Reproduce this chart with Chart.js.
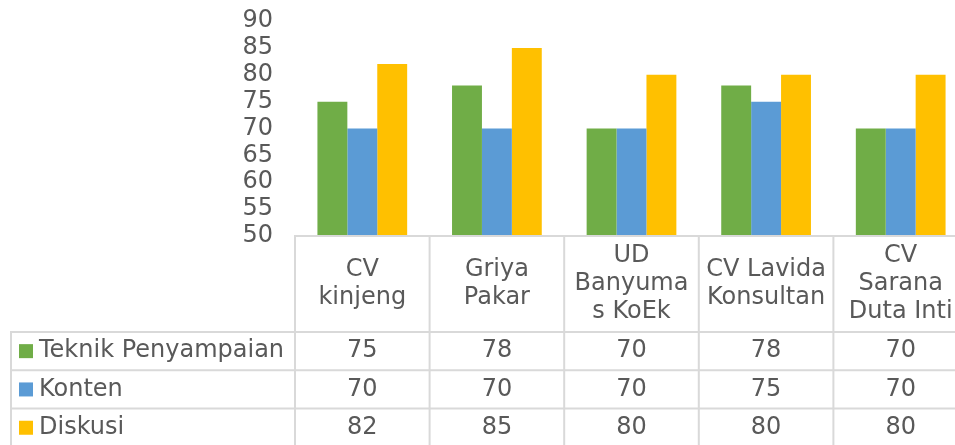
<!DOCTYPE html>
<html>
<head>
<meta charset="utf-8">
<script src="https://cdn.jsdelivr.net/npm/chart.js@4"></script>
<style>
  html, body { margin: 0; padding: 0; background: #fff; overflow: hidden; }
  #wrap { width: 955px; height: 445px; overflow: hidden; }
</style>
</head>
<body>
<div id="wrap"><canvas id="myChart" width="968" height="447"></canvas></div>
<script>
// data
var categories = [['CV', 'kinjeng'], ['Griya', 'Pakar'], ['UD', 'Banyuma', 's KoEk'], ['CV Lavida', 'Konsultan'], ['CV', 'Sarana', 'Duta Inti']];
var seriesNames = ['Teknik Penyampaian', 'Konten', 'Diskusi'];
var teknik = [75, 78, 70, 78, 70];
var konten = [70, 70, 70, 75, 70];
var diskusi = [82, 85, 80, 80, 80];
var colors = ['#70AD47', '#5B9BD5', '#FFC000'];

var FONT = '"DejaVu Sans", Verdana, sans-serif';
var TEXT = '#595959';
var LINE = '#d9d9d9';

// draws the data table under the plot, columns taken from the x scale
var tablePlugin = {
  id: 'dataTable',
  afterDraw: function (chart) {
    var c = chart.ctx;
    var area = chart.chartArea;
    var x = chart.scales.x;
    var n = categories.length;
    var colW = (area.right - area.left) / n;
    var bottom = chart.height;
    var headTop = area.bottom;
    var rowTop = headTop + 96;
    var rowH = 38.3;
    var legLeft = 11;

    c.save();
    c.strokeStyle = LINE;
    c.lineWidth = 2;
    c.beginPath();
    c.moveTo(area.left - 1, headTop); c.lineTo(area.right + 2, headTop);
    for (var r = 0; r <= 3; r++) {
      var yy = rowTop + r * rowH;
      c.moveTo(legLeft - 1, yy); c.lineTo(area.right + 2, yy);
    }
    for (var i = 0; i <= n; i++) {
      var xx = area.left + i * colW;
      c.moveTo(xx, headTop); c.lineTo(xx, bottom);
    }
    c.moveTo(legLeft, rowTop); c.lineTo(legLeft, bottom);
    c.stroke();

    c.fillStyle = TEXT;
    c.font = '24px ' + FONT;
    c.textAlign = 'center';
    c.textBaseline = 'middle';
    var lh = 28;
    var headMid = headTop + 48;
    for (var j = 0; j < n; j++) {
      var cx = x.getPixelForValue(j);
      var lines = categories[j];
      var y0 = headMid - (lines.length - 1) * lh / 2;
      for (var k = 0; k < lines.length; k++) {
        c.fillText(lines[k], cx, y0 + k * lh);
      }
    }

    var rows = [teknik, konten, diskusi];
    for (var r2 = 0; r2 < rows.length; r2++) {
      var cy = rowTop + r2 * rowH + rowH / 2;
      c.textAlign = 'center';
      c.fillStyle = TEXT;
      for (var j2 = 0; j2 < n; j2++) {
        c.fillText(String(rows[r2][j2]), x.getPixelForValue(j2), cy);
      }
      c.fillStyle = colors[r2];
      c.fillRect(19, cy - 7, 14, 14);
      c.fillStyle = TEXT;
      c.textAlign = 'left';
      c.fillText(seriesNames[r2], 39, cy);
    }
    c.restore();
  }
};

var ctx = document.getElementById('myChart').getContext('2d');
var chart = new Chart(ctx, {
  type: 'bar',
  data: {
    labels: categories.map(function (l) { return l.join(' '); }),
    datasets: [
      { label: seriesNames[0], data: teknik, backgroundColor: colors[0] },
      { label: seriesNames[1], data: konten, backgroundColor: colors[1] },
      { label: seriesNames[2], data: diskusi, backgroundColor: colors[2] }
    ]
  },
  options: {
    responsive: false,
    animation: false,
    layout: { padding: { top: 21, bottom: 211, left: 0, right: 0 } },
    datasets: { bar: { categoryPercentage: 3 / 4.5, barPercentage: 1 } },
    plugins: { legend: { display: false }, tooltip: { enabled: false } },
    scales: {
      x: { display: false },
      y: {
        min: 50,
        max: 90,
        afterFit: function (scale) {
          scale.width = 295;
          scale.paddingTop = 0;
          scale.paddingBottom = 0;
        },
        border: { display: false },
        grid: { display: false, drawTicks: false },
        ticks: {
          stepSize: 5,
          autoSkip: false,
          padding: 22,
          color: TEXT,
          font: { family: FONT, size: 24 }
        }
      }
    }
  },
  plugins: [tablePlugin]
});
</script>
</body>
</html>
